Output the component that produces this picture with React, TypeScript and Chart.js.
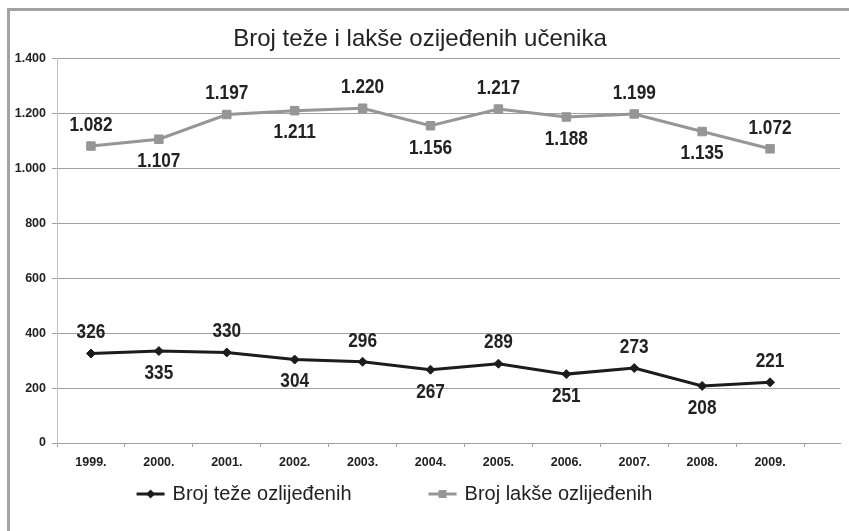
import React, { useEffect, useRef } from "react";
import { Chart, registerables } from "chart.js";

Chart.register(...registerables);

const chartTitle = "Broj teže i lakše ozijeđenih učenika";
const years = ["1999.", "2000.", "2001.", "2002.", "2003.", "2004.", "2005.", "2006.", "2007.", "2008.", "2009."];
const seriesNames = ["Broj teže ozlijeđenih", "Broj lakše ozlijeđenih"];
const tezeValues = [326, 335, 330, 304, 296, 267, 289, 251, 273, 208, 221];
const lakseValues = [1082, 1107, 1197, 1211, 1220, 1156, 1217, 1188, 1199, 1135, 1072];
const labelSide = ["above", "below", "above", "below", "above", "below", "above", "below", "above", "below", "above"];
const yMin = 0;
const yMax = 1400;
const yStep = 200;

const DARK = "#1c1c1c";
const LIGHT = "#969696";
const TEXT = "#222222";

function fmt(v: number): string {
  const n = Math.round(v);
  if (n >= 1000) {
    return Math.floor(n / 1000) + "." + String(n % 1000).padStart(3, "0");
  }
  return String(n);
}

const dataLabelPlugin = {
  id: "dataLabelPlugin",
  afterDatasetsDraw(chart: any) {
    const ctx = chart.ctx;
    chart.data.datasets.forEach((ds: any, di: number) => {
      const meta = chart.getDatasetMeta(di);
      meta.data.forEach((pt: any, i: number) => {
        const v = ds.data[i].y;
        const dy = labelSide[i] === "above" ? -21 : 22;
        ctx.save();
        ctx.translate(pt.x, pt.y + dy);
        ctx.scale(0.82, 1);
        ctx.font = 'bold 21px "Liberation Sans", Arial, sans-serif';
        ctx.fillStyle = TEXT;
        ctx.textAlign = "center";
        ctx.textBaseline = "middle";
        ctx.fillText(fmt(v), 0, 0);
        ctx.restore();
      });
    });
  },
};

const legendPlugin = {
  id: "customLegend",
  afterDraw(chart: any) {
    const ctx = chart.ctx;
    const y = 494;
    const lineLen = 28;
    const gap = 8;
    const itemGap = 77;
    ctx.save();
    ctx.font = '20px "Liberation Sans", Arial, sans-serif';
    ctx.textBaseline = "middle";
    ctx.textAlign = "left";
    const widths = seriesNames.map((n) => lineLen + gap + ctx.measureText(n).width);
    const total = widths.reduce((a, b) => a + b, 0) + itemGap * (widths.length - 1);
    const center = (chart.chartArea.left + chart.chartArea.right) / 2 - 54;
    let x = center - total / 2;
    chart.data.datasets.forEach((ds: any, di: number) => {
      ctx.strokeStyle = ds.borderColor;
      ctx.lineWidth = ds.borderWidth;
      ctx.beginPath();
      ctx.moveTo(x, y);
      ctx.lineTo(x + lineLen, y);
      ctx.stroke();
      ctx.fillStyle = ds.borderColor;
      const cx = x + lineLen / 2;
      if (ds.pointStyle === "rect") {
        ctx.fillRect(cx - 4, y - 4, 8, 8);
      } else {
        ctx.beginPath();
        ctx.moveTo(cx, y - 4.5);
        ctx.lineTo(cx + 4.5, y);
        ctx.lineTo(cx, y + 4.5);
        ctx.lineTo(cx - 4.5, y);
        ctx.closePath();
        ctx.fill();
      }
      ctx.fillStyle = TEXT;
      ctx.fillText(seriesNames[di], x + lineLen + gap, y);
      x += widths[di] + itemGap;
    });
    ctx.restore();
  },
};

export default function App() {
  const ref = useRef<HTMLCanvasElement | null>(null);

  useEffect(() => {
    const canvas = ref.current;
    if (!canvas) return;
    const chart = new Chart(canvas, {
      type: "line",
      data: {
        datasets: [
          {
            label: seriesNames[0],
            data: tezeValues.map((v, i) => ({ x: i, y: v })),
            borderColor: DARK,
            backgroundColor: DARK,
            borderWidth: 3,
            pointStyle: "rectRot",
            pointRadius: 4.5,
            pointBackgroundColor: DARK,
            pointBorderColor: DARK,
            pointBorderWidth: 1,
            tension: 0,
          },
          {
            label: seriesNames[1],
            data: lakseValues.map((v, i) => ({ x: i, y: v })),
            borderColor: LIGHT,
            backgroundColor: LIGHT,
            borderWidth: 3,
            pointStyle: "rect",
            pointRadius: 6,
            pointBackgroundColor: LIGHT,
            pointBorderColor: LIGHT,
            pointBorderWidth: 1,
            tension: 0,
          },
        ],
      },
      options: {
        responsive: false,
        animation: false,
        events: [],
        layout: { padding: { left: 0, right: 9, top: 0, bottom: 0 } },
        plugins: {
          legend: { display: false },
          tooltip: { enabled: false },
          title: {
            display: true,
            text: chartTitle,
            color: TEXT,
            font: { family: '"Liberation Sans", Arial, sans-serif', size: 24, weight: "normal" },
            padding: { top: 25, bottom: 5 },
          },
        },
        scales: {
          x: {
            type: "linear",
            min: -0.5,
            max: 11.03,
            afterBuildTicks: (s: any) => {
              s.ticks = years.map((_, i) => ({ value: i }));
            },
            afterFit: (s: any) => {
              s.height = 88;
            },
            ticks: {
              autoSkip: false,
              maxRotation: 0,
              padding: 8,
              color: TEXT,
              font: { family: '"Liberation Sans", Arial, sans-serif', size: 12.5, weight: "bold" },
              callback: (v: any) => years[v] ?? "",
            },
            grid: {
              offset: true,
              drawOnChartArea: false,
              drawTicks: true,
              tickLength: 4,
              color: "#a0a0a0",
            },
            border: { color: "#a0a0a0", width: 1 },
          },
          y: {
            min: yMin,
            max: yMax,
            afterFit: (s: any) => {
              s.width = 57;
            },
            ticks: {
              stepSize: yStep,
              padding: 6,
              color: TEXT,
              font: { family: '"Liberation Sans", Arial, sans-serif', size: 12.5, weight: "bold" },
              callback: (v: any) => fmt(Number(v)),
            },
            grid: { color: "#a0a0a0", tickLength: 5, lineWidth: 1 },
            border: { color: "#c0c0c0", width: 1 },
          },
        },
      },
      plugins: [dataLabelPlugin, legendPlugin],
    } as any);
    return () => chart.destroy();
  }, []);

  return (
    <div
      style={{
        position: "fixed",
        left: 0,
        top: 0,
        width: 849,
        height: 531,
        overflow: "hidden",
        background: "#ffffff",
      }}
    >
      <div
        style={{
          position: "absolute",
          left: 7,
          top: 8,
          width: 900,
          height: 600,
          borderLeft: "3px solid #a3a3a3",
          borderTop: "3px solid #a3a3a3",
        }}
      />
      <canvas
        ref={ref}
        width={849}
        height={531}
        style={{ position: "absolute", left: 0, top: 0, width: 849, height: 531 }}
      />
    </div>
  );
}
